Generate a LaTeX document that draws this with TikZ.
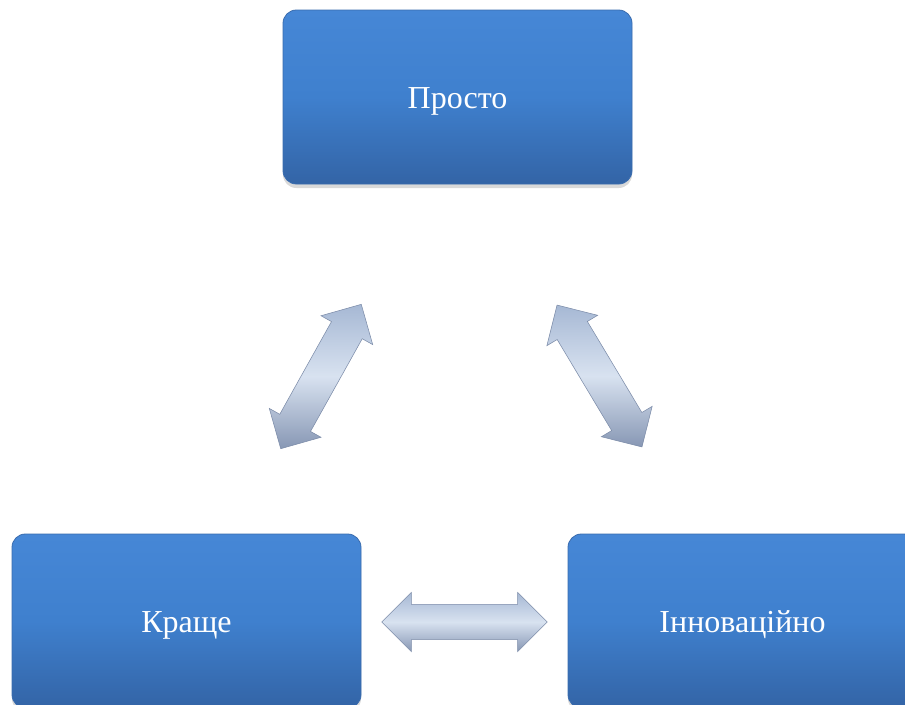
\documentclass[tikz,border=0pt]{standalone}
\usepackage{fontspec}
\setmainfont{Liberation Serif}
\usetikzlibrary{shapes.arrows,shadows}

\definecolor{boxtop}{HTML}{4687D6}
\definecolor{boxmid}{HTML}{3F80CE}
\definecolor{boxbot}{HTML}{3364A6}
\definecolor{boxline}{HTML}{3A6CAE}
\definecolor{arrtop}{HTML}{A6B8D4}
\definecolor{arrmid}{HTML}{D8E2F0}
\definecolor{arrbot}{HTML}{8797B4}
\definecolor{arrline}{HTML}{7B8BA8}

\begin{document}
\begin{tikzpicture}[x=0.75pt, y=-0.75pt]
				\tikzstyle{every node}=[inner sep=1pt, align=center]
				\tikzstyle{block}=[rectangle, rounded corners=10pt, minimum width=261.75pt, minimum height=130.5pt, top color=boxtop, bottom color=boxbot, middle color=boxmid, draw=boxline, line width=0.6pt, text=white, font=\fontsize{24}{28}\selectfont, text height=16.5pt, text depth=0pt, drop shadow={opacity=0.3, shadow xshift=0pt, shadow yshift=-3pt}]
				\tikzstyle{twoway}=[double arrow, double arrow head extend=9pt, inner xsep=0pt, inner ysep=13pt, minimum height=124pt, top color=arrtop, bottom color=arrbot, middle color=arrmid, draw=arrline, line width=0.4pt]
				\clip (0, 0) rectangle (905, 704);
				\node [block] (P) at (457.5, 97) {Просто};
				\node [block] (K) at (186.5, 621) {Краще};
				\node [block] (I) at (742.5, 621) {Інноваційно};
				\coordinate (pk1) at (280, 450);
				\coordinate (pk2) at (362, 303);
				\coordinate (pi1) at (557, 305);
				\coordinate (pi2) at (642, 447);
				\coordinate (ki1) at (382, 622);
				\coordinate (ki2) at (547, 622);
				\path (pk1) -- (pk2) node[midway, sloped, twoway] (PK) {};
				\path (pi1) -- (pi2) node[midway, sloped, twoway] (PI) {};
				\path (ki1) -- (ki2) node[midway, sloped, twoway] (KI) {};
		\end{tikzpicture}
\end{document}
